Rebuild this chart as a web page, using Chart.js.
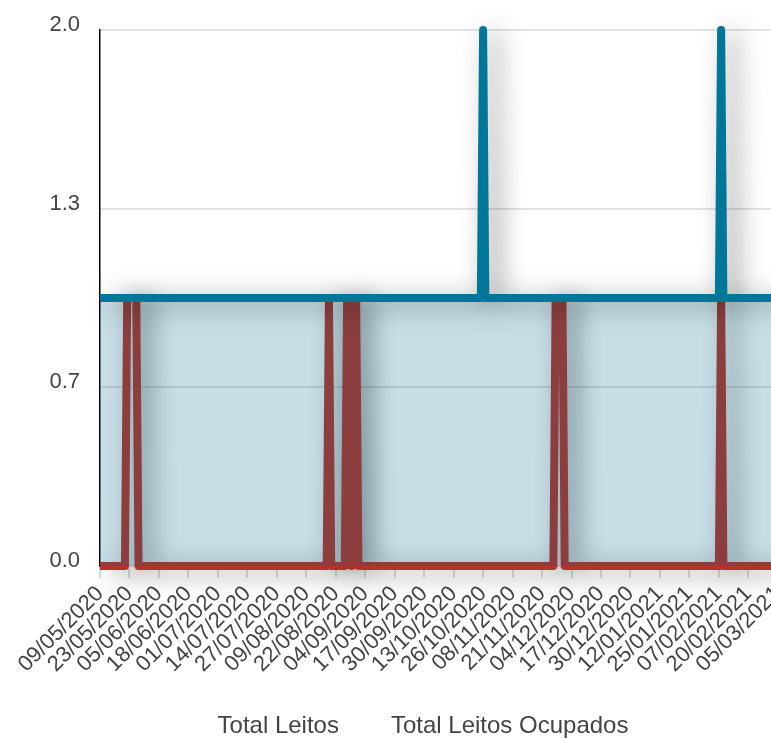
<!DOCTYPE html>
<html>
<head>
<meta charset="utf-8">
<script src="https://cdn.jsdelivr.net/npm/chart.js@4.4.0/dist/chart.umd.min.js"></script>
<style>
  html, body { margin: 0; padding: 0; background: #fff; overflow: hidden; }
  #wrap { width: 804px; height: 748px; position: relative; }
</style>
</head>
<body>
<div id="wrap"><canvas id="leitosChart"></canvas></div>
<script>
'use strict';

/* --- Data (one point per day) --- */
const firstDay = new Date(2020, 4, 9);
const skippedDay = new Date(2020, 4, 10);   // one day missing in the source series
const pointCount = 302;

// tick labels shown every 13 points
const tickLabels = [
  '09/05/2020', '23/05/2020', '05/06/2020', '18/06/2020', '01/07/2020', '14/07/2020',
  '27/07/2020', '09/08/2020', '22/08/2020', '04/09/2020', '17/09/2020', '30/09/2020',
  '13/10/2020', '26/10/2020', '08/11/2020', '21/11/2020', '04/12/2020', '17/12/2020',
  '30/12/2020', '12/01/2021', '25/01/2021', '07/02/2021', '20/02/2021', '05/03/2021'
];
const tickEvery = 13;

const totalLeitos = [
  1,1,1,1,1,1,1,1,1,1,1,1,1,1,1,1,1,1,1,1,1,1,1,1,1,1,
  1,1,1,1,1,1,1,1,1,1,1,1,1,1,1,1,1,1,1,1,1,1,1,1,1,1,
  1,1,1,1,1,1,1,1,1,1,1,1,1,1,1,1,1,1,1,1,1,1,1,1,1,1,
  1,1,1,1,1,1,1,1,1,1,1,1,1,1,1,1,1,1,1,1,1,1,1,1,1,1,
  1,1,1,1,1,1,1,1,1,1,1,1,1,1,1,1,1,1,1,1,1,1,1,1,1,1,
  1,1,1,1,1,1,1,1,1,1,1,1,1,1,1,1,1,1,1,1,1,1,1,1,1,1,
  1,1,1,1,1,1,1,1,1,1,1,1,1,2,1,1,1,1,1,1,1,1,1,1,1,1,
  1,1,1,1,1,1,1,1,1,1,1,1,1,1,1,1,1,1,1,1,1,1,1,1,1,1,
  1,1,1,1,1,1,1,1,1,1,1,1,1,1,1,1,1,1,1,1,1,1,1,1,1,1,
  1,1,1,1,1,1,1,1,1,1,1,1,1,1,1,1,1,1,1,1,1,1,1,1,1,1,
  1,1,1,1,1,1,1,1,1,1,1,1,1,1,2,1,1,1,1,1,1,1,1,1,1,1,
  1,1,1,1,1,1,1,1,1,1,1,1,1,1,1,1
];

const totalOcupados = [
  0,0,0,0,0,0,0,0,0,0,0,0,1,1,1,1,1,0,0,0,0,0,0,0,0,0,
  0,0,0,0,0,0,0,0,0,0,0,0,0,0,0,0,0,0,0,0,0,0,0,0,0,0,
  0,0,0,0,0,0,0,0,0,0,0,0,0,0,0,0,0,0,0,0,0,0,0,0,0,0,
  0,0,0,0,0,0,0,0,0,0,0,0,0,0,0,0,0,0,0,0,0,0,0,1,0,0,
  0,0,0,0,0,1,1,0,1,1,0,0,0,0,0,0,0,0,0,0,0,0,0,0,0,0,
  0,0,0,0,0,0,0,0,0,0,0,0,0,0,0,0,0,0,0,0,0,0,0,0,0,0,
  0,0,0,0,0,0,0,0,0,0,0,0,0,0,0,0,0,0,0,0,0,0,0,0,0,0,
  0,0,0,0,0,0,0,0,0,0,0,0,0,0,0,0,0,0,0,1,1,1,1,0,0,0,
  0,0,0,0,0,0,0,0,0,0,0,0,0,0,0,0,0,0,0,0,0,0,0,0,0,0,
  0,0,0,0,0,0,0,0,0,0,0,0,0,0,0,0,0,0,0,0,0,0,0,0,0,0,
  0,0,0,0,0,0,0,0,0,0,0,0,0,0,1,0,0,0,0,0,0,0,0,0,0,0,
  0,0,0,0,0,0,0,0,0,0,0,0,0,0,0,0
];

const yTickValues = [0, 2 / 3, 4 / 3, 2];

/* --- Categories: daily dates dd/mm/yyyy --- */
function pad2(n) { return n < 10 ? '0' + n : '' + n; }
const dayLabels = [];
for (let d = new Date(firstDay); dayLabels.length < pointCount; d.setDate(d.getDate() + 1)) {
  if (d.getTime() === skippedDay.getTime()) continue;
  dayLabels.push(pad2(d.getDate()) + '/' + pad2(d.getMonth() + 1) + '/' + d.getFullYear());
}

/* --- Drop shadow under the lines --- */
const lineShadow = {
  id: 'lineShadow',
  beforeDatasetDraw(chart) {
    const ctx = chart.ctx;
    ctx.save();
    ctx.shadowColor = 'rgba(0,0,0,0.45)';
    ctx.shadowBlur = 26;
    ctx.shadowOffsetX = 10;
    ctx.shadowOffsetY = 4;
  },
  afterDatasetDraw(chart) {
    chart.ctx.restore();
  }
};

const FONT = "'Liberation Sans', Arial, Helvetica, sans-serif";
const TEXT = '#444';

new Chart(document.getElementById('leitosChart'), {
  type: 'line',
  data: {
    labels: dayLabels,
    datasets: [{
      label: 'Total Leitos',
      data: totalLeitos,
      borderColor: '#007799',
      backgroundColor: 'rgba(0,105,140,0.22)',
      borderWidth: 8,
      borderJoinStyle: 'round',
      fill: 'origin',
      clip: false,
      pointRadius: 0,
      tension: 0,
      order: 0
    }, {
      label: 'Total Leitos Ocupados',
      data: totalOcupados,
      borderColor: '#b43228',
      backgroundColor: 'transparent',
      borderWidth: 8,
      borderJoinStyle: 'round',
      fill: false,
      clip: false,
      pointRadius: 0,
      tension: 0,
      order: 1
    }]
  },
  options: {
    responsive: true, maintainAspectRatio: false,
    animation: false,
    layout: { padding: { top: 30, right: 0, bottom: 0, left: 0 } },
    plugins: {
      tooltip: { enabled: false },
      legend: {
        position: 'bottom',
        labels: {
          color: TEXT,
          font: { family: FONT, size: 24 },
          boxWidth: 30,
          padding: 10,
          generateLabels(chart) {
            return Chart.defaults.plugins.legend.labels.generateLabels(chart).map(l =>
              Object.assign(l, { fillStyle: 'rgba(0,0,0,0)', strokeStyle: 'rgba(0,0,0,0)', lineWidth: 0 }));
          }
        }
      }
    },
    scales: {
      x: {
        afterFit: scale => { scale.height = 138; },
        grid: {
          drawOnChartArea: false,
          tickLength: 12,
          lineWidth: 2,
          tickColor: c => (c.index % tickEvery === 0 ? '#dcdcdc' : 'rgba(0,0,0,0)')
        },
        border: { display: false },
        ticks: {
          autoSkip: false,
          maxRotation: 45, minRotation: 45,
          padding: 3,
          color: TEXT,
          font: { family: FONT, size: 22 },
          callback: (v, i) => (i % tickEvery === 0 ? tickLabels[i / tickEvery] : '')
        }
      },
      y: {
        min: 0, max: 2,
        afterBuildTicks: scale => { scale.ticks = yTickValues.map(v => ({ value: v })); },
        afterFit: scale => { scale.width = 100; scale.paddingTop = 0; scale.paddingBottom = 0; },
        grid: { color: '#e3e3e3', lineWidth: 2, drawTicks: false },
        border: { display: true, color: '#000', width: 1.5 },
        ticks: {
          padding: 20,
          labelOffset: -5,
          color: TEXT,
          font: { family: FONT, size: 22 },
          callback: v => Number(v).toFixed(1)
        }
      }
    }
  },
  plugins: [lineShadow]
});
</script>
</body>
</html>
